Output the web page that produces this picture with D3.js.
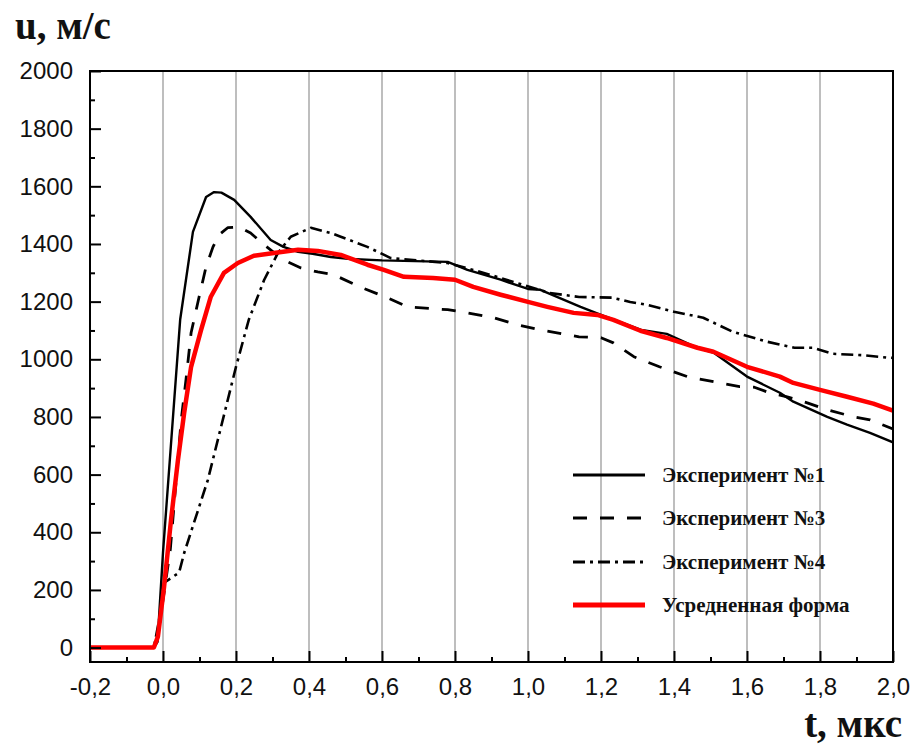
<!DOCTYPE html>
<html>
<head>
<meta charset="utf-8">
<script src="https://cdn.jsdelivr.net/npm/d3@7/dist/d3.min.js"></script>
<style>
  html, body { margin: 0; padding: 0; background: #fff; }
  svg { display: block; }
  .tick text { font-family: "Liberation Sans", Arial, sans-serif; font-size: 24px; fill: #111; }
  .serif { font-family: "Liberation Serif", "Times New Roman", serif; font-weight: bold; fill: #111; }
</style>
</head>
<body>
<svg id="chart" width="916" height="746"></svg>
<script>
// Velocity profiles u(t), [t (мкс), u (м/с)]
const exp1 = [[-0.2,0],[-0.025,0],[-0.015,20],[0,330],[0.047,1137],[0.082,1442],[0.118,1563],[0.14,1580],[0.16,1578],[0.195,1553],[0.24,1494],[0.295,1414],[0.33,1390],[0.37,1373],[0.41,1366],[0.46,1355],[0.514,1348],[0.6,1343],[0.78,1338],[0.834,1310],[0.925,1276],[1.0,1244],[1.034,1241],[1.144,1182],[1.2,1154],[1.31,1102],[1.38,1088],[1.464,1040],[1.51,1022],[1.6,940],[1.69,884],[1.727,853],[1.82,800],[1.874,773],[1.937,745],[2.0,712]];
const exp3 = [[-0.2,0],[-0.025,0],[-0.012,60],[0.02,340],[0.05,790],[0.063,929],[0.077,1092],[0.099,1217],[0.118,1321],[0.137,1390],[0.154,1432],[0.178,1457],[0.208,1459],[0.24,1438],[0.277,1397],[0.315,1359],[0.342,1338],[0.378,1317],[0.424,1303],[0.468,1293],[0.54,1251],[0.615,1213],[0.67,1182],[0.78,1172],[0.834,1161],[0.906,1144],[0.97,1120],[1.034,1102],[1.108,1085],[1.14,1078],[1.2,1075],[1.234,1057],[1.29,1009],[1.36,974],[1.436,940],[1.51,922],[1.58,905],[1.62,903],[1.663,883],[1.71,870],[1.765,849],[1.82,825],[1.89,801],[1.937,790],[2.0,758]];
const exp4 = [[-0.2,0],[-0.025,0],[-0.01,100],[0.003,225],[0.044,260],[0.058,328],[0.123,582],[0.2,974],[0.235,1137],[0.277,1275],[0.315,1369],[0.35,1425],[0.405,1456],[0.46,1438],[0.487,1425],[0.56,1390],[0.624,1351],[0.78,1334],[0.87,1303],[0.925,1282],[1.06,1230],[1.14,1216],[1.23,1214],[1.28,1199],[1.326,1189],[1.4,1165],[1.48,1144],[1.562,1095],[1.655,1061],[1.73,1040],[1.78,1040],[1.836,1019],[1.918,1014],[1.983,1006],[2.0,1005]];
const average = [[-0.2,0],[-0.025,0],[-0.014,38],[0.003,211],[0.022,443],[0.041,651],[0.058,814],[0.077,974],[0.104,1100],[0.131,1217],[0.167,1300],[0.205,1334],[0.249,1359],[0.304,1369],[0.37,1380],[0.424,1376],[0.487,1362],[0.56,1328],[0.605,1310],[0.66,1286],[0.74,1282],[0.8,1276],[0.85,1251],[0.925,1224],[1.0,1199],[1.053,1182],[1.125,1161],[1.19,1154],[1.234,1137],[1.308,1099],[1.38,1074],[1.464,1040],[1.508,1026],[1.6,974],[1.69,940],[1.727,918],[1.8,894],[1.874,870],[1.946,846],[2.0,822]];

const seriesNames = ["Эксперимент №1", "Эксперимент №3", "Эксперимент №4", "Усредненная форма"];
const xTicks = [-0.2, 0, 0.2, 0.4, 0.6, 0.8, 1.0, 1.2, 1.4, 1.6, 1.8, 2.0];
const xMinorTicks = [-0.1, 0.1, 0.3, 0.5, 0.7, 0.9, 1.1, 1.3, 1.5, 1.7, 1.9];
const yTicks = [0, 200, 400, 600, 800, 1000, 1200, 1400, 1600, 1800, 2000];
const yMinorTicks = [100, 300, 500, 700, 900, 1100, 1300, 1500, 1700, 1900];
const yTitle = "u, м/с";
const xTitle = "t, мкс";

const svg = d3.select("#chart");
const plotLeft = 90, plotRight = 893, plotTop = 71, plotBottom = 662;

const x = d3.scaleLinear().domain([-0.2, 2.0]).range([plotLeft, plotRight]);
const y = d3.scaleLinear().domain([-50, 2000]).range([plotBottom, plotTop]);

const styles = [
  { stroke: "#000", width: 2.4, dash: null },
  { stroke: "#000", width: 2.8, dash: "14,13" },
  { stroke: "#000", width: 2.6, dash: "12,5,3,5" },
  { stroke: "#ff0000", width: 4.5, dash: null }
];
const data = [exp1, exp3, exp4, average];

// vertical grid
svg.append("g").selectAll("line")
  .data(xTicks.filter(d => d > -0.2 && d < 2.0))
  .join("line")
  .attr("x1", d => x(d)).attr("x2", d => x(d))
  .attr("y1", plotTop).attr("y2", plotBottom)
  .attr("stroke", "#a8a8a8").attr("stroke-width", 1.5);

// clip region for the curves
svg.append("clipPath").attr("id", "plot")
  .append("rect").attr("x", plotLeft).attr("y", plotTop)
  .attr("width", plotRight - plotLeft).attr("height", plotBottom - plotTop);

const line = d3.line().x(d => x(d[0])).y(d => y(d[1]));
const curves = svg.append("g").attr("clip-path", "url(#plot)");
data.forEach((s, i) => {
  curves.append("path")
    .attr("d", line(s))
    .attr("fill", "none")
    .attr("stroke", styles[i].stroke)
    .attr("stroke-width", styles[i].width)
    .attr("stroke-dasharray", styles[i].dash)
    .attr("stroke-linejoin", "round");
});

// axes with inward ticks
const fmtX = d => d3.format(".1f")(d).replace(".", ",").replace("−", "-");
const xAxis = d3.axisBottom(x).tickValues(xTicks).tickSizeInner(-11).tickSizeOuter(0)
  .tickPadding(16).tickFormat(fmtX);
const gx = svg.append("g").attr("transform", `translate(0,${plotBottom})`).call(xAxis);
const xMinor = d3.axisBottom(x).tickValues(xMinorTicks).tickSizeInner(-5).tickSizeOuter(0).tickFormat("");
const gxm = svg.append("g").attr("transform", `translate(0,${plotBottom})`).call(xMinor);

const yAxis = d3.axisLeft(y).tickValues(yTicks).tickSizeInner(-11).tickSizeOuter(0)
  .tickPadding(17).tickFormat(d3.format("d"));
const gy = svg.append("g").attr("transform", `translate(${plotLeft},0)`).call(yAxis);
const yMinor = d3.axisLeft(y).tickValues(yMinorTicks).tickSizeInner(-5).tickSizeOuter(0).tickFormat("");
const gym = svg.append("g").attr("transform", `translate(${plotLeft},0)`).call(yMinor);

[gx, gxm, gy, gym].forEach(g => {
  g.select(".domain").remove();
  g.selectAll(".tick line").attr("stroke", "#000").attr("stroke-width", 2);
});

// frame
svg.append("rect").attr("x", plotLeft).attr("y", plotTop)
  .attr("width", plotRight - plotLeft).attr("height", plotBottom - plotTop)
  .attr("fill", "none").attr("stroke", "#000").attr("stroke-width", 2);

// titles
svg.append("text").attr("class", "serif").attr("x", 15).attr("y", 39)
  .attr("font-size", 39).text(yTitle);
svg.append("text").attr("class", "serif").attr("x", 902).attr("y", 737)
  .attr("text-anchor", "end").attr("font-size", 39).text(xTitle);

// legend
const legend = svg.append("g");
const legendRows = [475, 518, 562, 605];
seriesNames.forEach((name, i) => {
  const ly = legendRows[i];
  legend.append("line")
    .attr("x1", 573).attr("x2", 645).attr("y1", ly).attr("y2", ly)
    .attr("stroke", styles[i].stroke)
    .attr("stroke-width", i === 3 ? 5 : styles[i].width + 0.4)
    .attr("stroke-dasharray", styles[i].dash);
  legend.append("text").attr("class", "serif")
    .attr("x", 662).attr("y", ly + 7).attr("font-size", 21).text(name);
});
</script>
</body>
</html>
